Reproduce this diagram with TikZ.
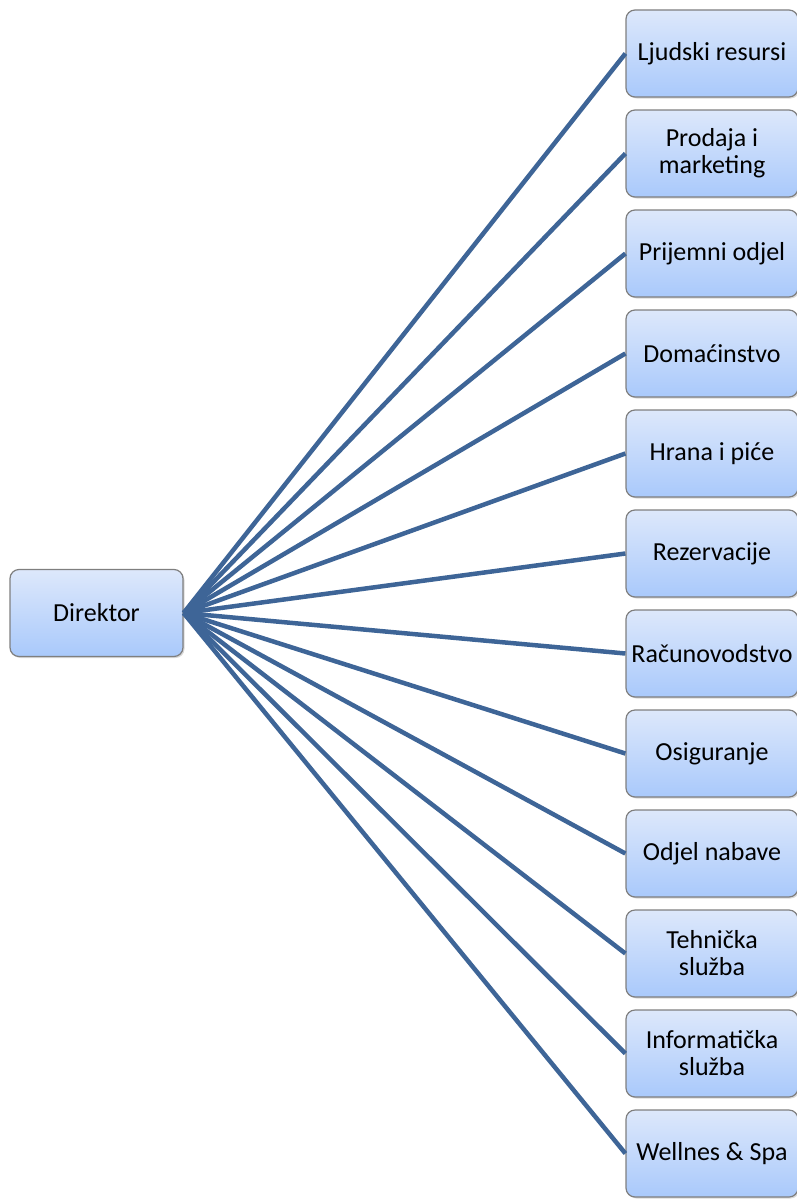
\documentclass[tikz,border=0pt]{standalone}
\usepackage{fontspec}
\setmainfont{Carlito}
\usetikzlibrary{shadows}
\definecolor{linkblue}{HTML}{3E6597}
\definecolor{boxtop}{HTML}{DDE8FB}
\definecolor{boxbot}{HTML}{A9C9FB}
\definecolor{boxline}{HTML}{7F7F7F}
\tikzset{
  unit/.style={draw=boxline, line width=1.2pt, rounded corners=9pt,
    top color=boxtop, bottom color=boxbot, minimum width=172pt,
    minimum height=87pt, inner sep=1pt, align=center,
    font=\fontsize{26}{27}\selectfont,
    drop shadow={shadow xshift=1.5pt, shadow yshift=-1.5pt, opacity=.3}},
  link/.style={draw=linkblue, line width=4.5pt}
}
\begin{document}
\begin{tikzpicture}[x=1pt,y=-1pt]
  \useasboundingbox (0,0) rectangle (796,1199);
  \node[unit, minimum width=173pt] (D) at (96.5,613) {Direktor};
  \foreach \x/\t in {0/Ljudski resursi, 1/Prodaja i\\marketing, 2/Prijemni odjel,
      3/Domaćinstvo, 4/Hrana i piće, 5/Rezervacije, 6/Računovodstvo,
      7/Osiguranje, 8/Odjel nabave, 9/Tehnička\\služba,
      10/Informatička\\služba, 11/Wellnes \& Spa}{
    \node[unit] (N\x) at (712,53.5+100*\x) {\t};
  }
  \foreach \x in {0,...,11}{
    \draw[link] (D.east) -- (N\x.west);
  }
\end{tikzpicture}
\end{document}
